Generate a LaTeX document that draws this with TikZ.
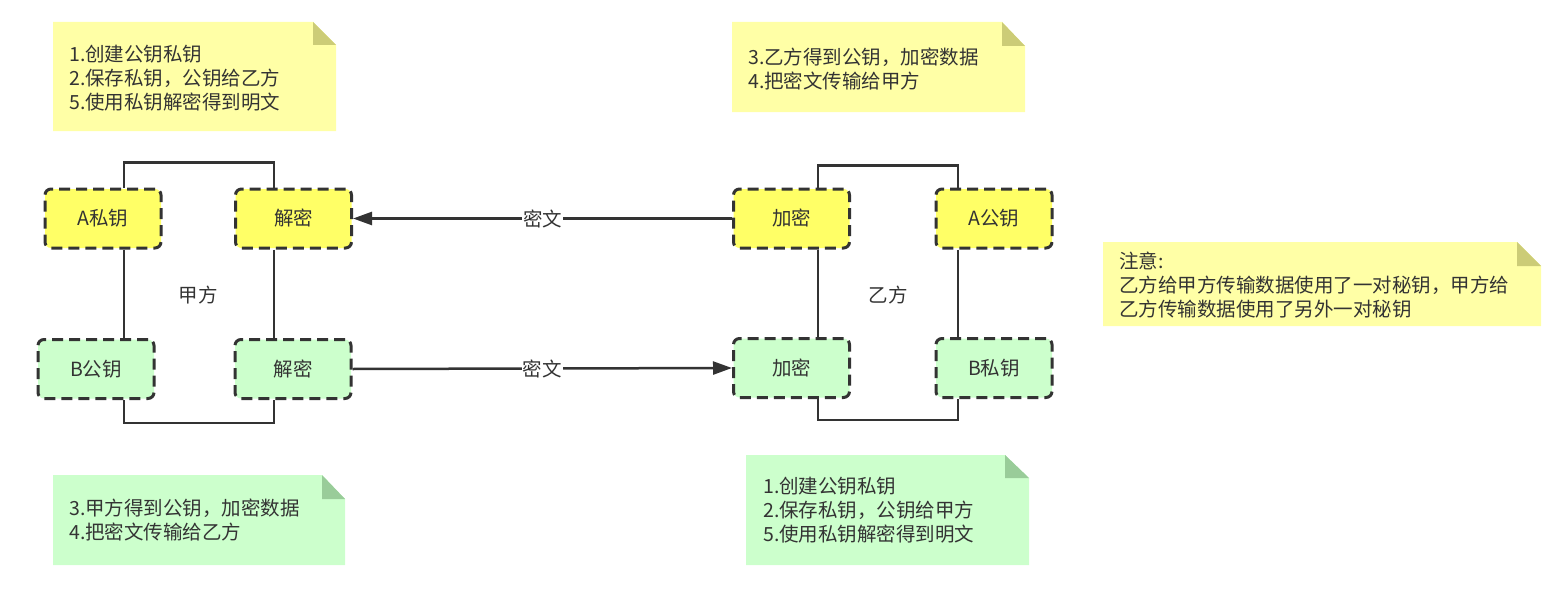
\documentclass[tikz,border=0pt]{standalone}
\usepackage{fontspec}
\setmainfont{Noto Sans CJK SC}
\usetikzlibrary{arrows.meta}
\definecolor{ink}{HTML}{333333}
\definecolor{ynote}{HTML}{FFFFA6}
\definecolor{yfold}{HTML}{CCCC77}
\definecolor{gnote}{HTML}{CCFFCC}
\definecolor{gfold}{HTML}{99CC99}
\definecolor{ybox}{HTML}{FFFF66}
\definecolor{gbox}{HTML}{CCFFCC}
\tikzset{
  keybox/.style={draw=ink, line width=3pt, dash pattern=on 11pt off 6pt, rounded corners=6pt,
    minimum width=116pt, minimum height=59pt, inner sep=0pt, text=ink,
    font=\fontsize{19.5}{24}\selectfont},
  ykey/.style={keybox, fill=ybox},
  gkey/.style={keybox, fill=gbox},
  conn/.style={draw=ink, line width=2.5pt},
  arr/.style={conn, -{Triangle[length=19pt,width=13pt]}},
  lbl/.style={fill=white, text=ink, inner sep=1pt, font=\fontsize{19.5}{24}\selectfont},
  grp/.style={text=ink, inner sep=0pt, font=\fontsize{19.5}{24}\selectfont},
  notetext/.style={anchor=west, align=left, text=ink, inner sep=0pt, font=\fontsize{19.5}{24}\selectfont},
}
\begin{document}
\begin{tikzpicture}[x=1pt,y=-1pt]
\useasboundingbox (0,0) rectangle (1558,594);

% notes
\fill[ynote] (53,22) -- (313,22) -- (336,45) -- (336,131) -- (53,131) -- cycle;
\fill[yfold] (313,22) -- (313,45) -- (336,45) -- cycle;
\node[notetext] (n1) at (69,78) {1.创建公钥私钥\\2.保存私钥，公钥给乙方\\5.使用私钥解密得到明文};

\fill[ynote] (732,22) -- (1002,22) -- (1025,46) -- (1025,112) -- (732,112) -- cycle;
\fill[yfold] (1002,22) -- (1002,46) -- (1025,46) -- cycle;
\node[notetext] (n2) at (748,69) {3.乙方得到公钥，加密数据\\4.把密文传输给甲方};

\fill[ynote] (1103,242) -- (1517,242) -- (1541,266) -- (1541,326) -- (1103,326) -- cycle;
\fill[yfold] (1517,242) -- (1517,266) -- (1541,266) -- cycle;
\node[notetext] (n3) at (1119,285.5) {注意:\\乙方给甲方传输数据使用了一对秘钥，甲方给\\乙方传输数据使用了另外一对秘钥};

\fill[gnote] (53,475) -- (322,475) -- (345,499) -- (345,565) -- (53,565) -- cycle;
\fill[gfold] (322,475) -- (322,499) -- (345,499) -- cycle;
\node[notetext] (n4) at (69,520.5) {3.甲方得到公钥，加密数据\\4.把密文传输给乙方};

\fill[gnote] (746,455) -- (1005,455) -- (1029,478) -- (1029,565) -- (746,565) -- cycle;
\fill[gfold] (1005,455) -- (1005,478) -- (1029,478) -- cycle;
\node[notetext] (n5) at (763,510.5) {1.创建公钥私钥\\2.保存私钥，公钥给甲方\\5.使用私钥解密得到明文};

% key boxes
\node[ykey] (a1) at (103,218.5) {A私钥};
\node[ykey] (d1) at (293.5,218.5) {解密};
\node[gkey] (b1) at (96,369) {B公钥};
\node[gkey] (d2) at (293,369) {解密};
\node[ykey] (e1) at (791.5,218.5) {加密};
\node[ykey] (pa) at (994,218.5) {A公钥};
\node[gkey] (e2) at (791.5,368) {加密};
\node[gkey] (pb) at (994,368) {B私钥};

% group connectors
\draw[conn] ([xshift=21pt]a1.north) -- ++(0,-25) -| ([xshift=-19.5pt]d1.north);
\draw[conn] ([xshift=21pt]a1.south) -- ([xshift=21pt]a1.south |- b1.north);
\draw[conn] ([xshift=-19.5pt]d1.south) -- ([xshift=-19.5pt]d1.south |- d2.north);
\draw[conn] ([xshift=28pt]b1.south) -- ++(0,23) -| ([xshift=-19pt]d2.south);

\draw[conn] ([xshift=26.5pt]e1.north) -- ++(0,-22) -| ([xshift=-36pt]pa.north);
\draw[conn] ([xshift=26.5pt]e1.south) -- ([xshift=26.5pt]e1.south |- e2.north);
\draw[conn] ([xshift=-36pt]pa.south) -- ([xshift=-36pt]pa.south |- pb.north);
\draw[conn] ([xshift=26.5pt]e2.south) -- ++(0,21) -| ([xshift=-36pt]pb.south);

\node[grp] (ga) at (198,295) {甲方};
\node[grp] (gb) at (888,295) {乙方};

\draw[arr] (e1.west) -- node[lbl] (m1) {密文} (d1.east);
\draw[arr] (d2.east) -- node[lbl] (m2) {密文} (e2.west);
\end{tikzpicture}
\end{document}
